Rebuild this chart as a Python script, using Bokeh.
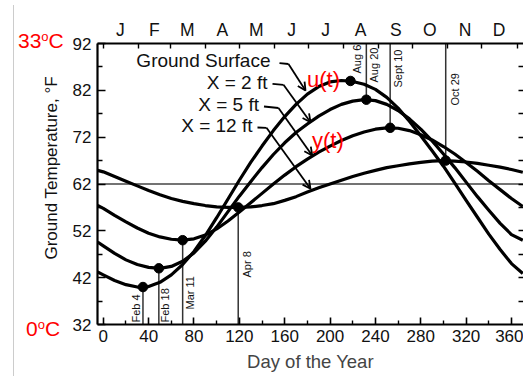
import math

from bokeh.plotting import figure
from bokeh.layouts import row
from bokeh.models import (Range1d, LinearAxis, FixedTicker, Label, Arrow, OpenHead,
                          ColumnDataSource, Div)
from bokeh.embed import file_html
from bokeh.resources import INLINE
from bokeh.core.properties import value

FONT = "Liberation Sans"

# Day of year sampled every ten days (plus the left edge of the axis)
days = [-5, 0, 10, 20, 30, 40, 50, 60, 70, 80, 90, 100, 110, 120, 130, 140, 150, 160,
        170, 180, 190, 200, 210, 220, 230, 240, 250, 260, 270, 280, 290, 300, 310, 320,
        330, 340, 350, 360, 370]

# Ground temperature, deg F
surface = [43.2, 42.6, 41.4, 40.5, 40.0, 40.1, 41.0, 42.6, 44.8, 47.6, 51.0, 54.8, 58.8,
           62.8, 66.6, 70.1, 73.4, 76.4, 79.0, 81.2, 82.8, 83.8, 84.1, 83.9, 83.3, 82.2,
           80.5, 78.2, 75.4, 72.3, 69.1, 65.8, 62.2, 58.5, 54.9, 51.3, 48.0, 45.0, 42.9]
depth_2ft = [49.6, 48.8, 47.2, 45.8, 44.8, 44.2, 44.0, 44.4, 45.5, 47.3, 49.8, 52.8, 56.1,
             59.4, 62.5, 65.5, 68.3, 70.8, 73.0, 74.8, 76.5, 77.9, 79.0, 79.7, 80.0, 79.8,
             79.0, 77.7, 75.9, 73.7, 71.2, 68.4, 65.5, 62.4, 59.3, 56.4, 53.6, 51.2, 50.0]
depth_5ft = [57.4, 56.8, 55.3, 53.9, 52.6, 51.5, 50.7, 50.2, 50.0, 50.3, 51.1, 52.4, 54.1,
             56.0, 58.0, 60.0, 62.0, 63.9, 65.7, 67.3, 68.8, 70.1, 71.3, 72.3, 73.1, 73.7,
             74.0, 73.9, 73.4, 72.5, 71.4, 70.0, 68.4, 66.6, 64.7, 62.7, 60.8, 58.9, 57.2]
depth_12ft = [64.9, 64.6, 63.6, 62.6, 61.6, 60.6, 59.7, 58.9, 58.3, 57.8, 57.4, 57.1, 57.0,
              57.0, 57.1, 57.4, 57.8, 58.5, 59.3, 60.3, 61.2, 62.0, 62.8, 63.6, 64.3, 64.9,
              65.5, 65.9, 66.3, 66.6, 66.9, 67.0, 66.9, 66.7, 66.4, 66.0, 65.6, 65.1, 64.5]

# Dates of the minima / maxima of each curve
event_labels = ["Feb 4", "Feb 18", "Mar 11", "Apr 8", "Aug 6", "Aug 20", "Sept 10", "Oct 29"]
event_days = [35, 49, 70, 119, 218, 232, 253, 302]
event_temps = [40, 44, 50, 57, 84, 80, 74, 67]

mean_temp = 62

temp_ticks = [32, 42, 52, 62, 72, 82, 92]
day_ticks = [0, 40, 80, 120, 160, 200, 240, 280, 320, 360]
month_letters = ["J", "F", "M", "A", "M", "J", "J", "A", "S", "O", "N", "D"]
month_mid = [15, 45, 74, 105, 135, 166, 196, 227, 258, 288, 319, 349]
month_start = [0, 31, 59, 90, 120, 151, 181, 212, 243, 273, 304, 334, 365]

celsius_marks = ["33", "0"]

# ---------------------------------------------------------------- geometry (page px)
W, H = 523, 376
SIDE_W = 68                      # strip left of the tick labels
FRAME_L, TOP, BOTTOM = 97, 43, 52
X0, X1 = -5.1, 370.6
Y0, Y1 = 32, 92


def sx(px):
    """page x (px) -> day"""
    return X0 + (px - FRAME_L) * (X1 - X0) / (W - FRAME_L)


def sy(py):
    """page y (px from top) -> deg F"""
    return Y0 + (H - BOTTOM - py) * (Y1 - Y0) / (H - BOTTOM - TOP)


# ---------------------------------------------------------------- main chart
p = figure(width=W - SIDE_W, height=H, output_backend="svg", toolbar_location=None,
           x_range=Range1d(X0, X1), y_range=Range1d(Y0, Y1),
           min_border_left=FRAME_L - SIDE_W, min_border_right=0, min_border_top=TOP,
           min_border_bottom=BOTTOM, background_fill_color="white",
           border_fill_color="white", outline_line_color=None)
p.xgrid.visible = False
p.ygrid.visible = False


def style_axis(ax, size="17px"):
    ax.axis_line_width = 2.2
    ax.axis_line_color = "black"
    ax.major_tick_line_width = 1.6
    ax.minor_tick_line_width = 1.4
    ax.major_label_text_font = FONT
    ax.major_label_text_font_size = size
    ax.major_label_text_color = "#111111"


# left axis
yl = p.yaxis[0]
yl.ticker = FixedTicker(ticks=temp_ticks, minor_ticks=[t + 5 for t in temp_ticks[:-1]])
yl.major_tick_in, yl.major_tick_out = 8, 0
yl.minor_tick_in, yl.minor_tick_out = 5, 0
yl.major_label_standoff = 6
style_axis(yl)

# bottom axis
xb = p.xaxis[0]
xb.ticker = FixedTicker(ticks=day_ticks, minor_ticks=[d + 20 for d in day_ticks])
xb.major_tick_in, xb.major_tick_out = 7, 0
xb.minor_tick_in, xb.minor_tick_out = 4, 0
xb.major_label_standoff = 5
xb.axis_label = "Day of the Year"
xb.axis_label_text_font = FONT
xb.axis_label_text_font_size = "18.5px"
xb.axis_label_text_font_style = "normal"
xb.axis_label_standoff = 6
style_axis(xb)

# month axis on top: letters at mid-month, ticks at month boundaries
xt = LinearAxis(ticker=FixedTicker(ticks=month_mid, minor_ticks=month_start),
                major_label_overrides={m: s for m, s in zip(month_mid, month_letters)})
xt.major_tick_in, xt.major_tick_out = 0, 0
xt.minor_tick_in, xt.minor_tick_out = 5, 0
xt.major_label_standoff = 4
style_axis(xt, "17.5px")
p.add_layout(xt, "above")

# right edge: unlabeled ticks every 5 F
right_ticks = list(range(37, 92, 5))
yr = LinearAxis(ticker=FixedTicker(ticks=right_ticks),
                major_label_overrides={t: "" for t in right_ticks})
yr.axis_line_color = None
yr.major_tick_in, yr.major_tick_out = 5, 0
yr.major_tick_line_width = 1.4
yr.major_label_text_font_size = "1px"
yr.major_label_standoff = 0
p.add_layout(yr, "right")

# mean temperature line and date markers
p.line([X0, X1], [mean_temp, mean_temp], line_color="#444444", line_width=1.5)
lower = [i for i, d in enumerate(event_days) if d < 180]
upper = [i for i, lab in enumerate(event_labels) if event_days[i] > 180 and lab != "Aug 6"]
p.segment(x0=[event_days[i] for i in lower], y0=[Y0] * len(lower),
          x1=[event_days[i] for i in lower], y1=[event_temps[i] for i in lower],
          line_color="#333333", line_width=1.5)
p.segment(x0=[event_days[i] for i in upper], y0=[Y1] * len(upper),
          x1=[event_days[i] for i in upper], y1=[event_temps[i] for i in upper],
          line_color="#333333", line_width=1.5)

# temperature curves
for series in (surface, depth_2ft, depth_5ft, depth_12ft):
    p.line(days, series, line_color="black", line_width=3.2, line_join="round")

p.scatter(event_days, event_temps, size=9.5, color="black")

# rotated date captions: (offset from the marker line in px, start height in px)
caption_place = {"Feb 4": (-7, 322), "Feb 18": (6, 322), "Mar 11": (7, 309),
                 "Apr 8": (8.5, 277), "Aug 6": (7, 73), "Aug 20": (8, 82),
                 "Sept 10": (8, 87), "Oct 29": (9, 105)}
px_per_day = (W - FRAME_L) / (X1 - X0)
cap_src = ColumnDataSource(dict(
    x=[d + caption_place[lab][0] / px_per_day for d, lab in zip(event_days, event_labels)],
    y=[sy(caption_place[lab][1]) for lab in event_labels],
    text=event_labels))
p.text(x="x", y="y", text="text", source=cap_src, angle=math.pi / 2,
       text_align="left", text_baseline="middle", text_font=value(FONT),
       text_font_size="11px", text_color="#111111")

# leader captions with arrows
leaders = [("Ground Surface", 270, 60, [(279, 62.7), (288, 63.5)], (305, 90)),
           ("X = 2 ft", 267, 82, [(272, 83.3), (283, 84.3)], (310, 121.7)),
           ("X = 5 ft", 258.5, 103.5, [(263.5, 106), (278, 107.5)], (311.7, 155)),
           ("X = 12 ft", 252, 124.5, [(257, 127), (266, 127.3)], (310, 188.3))]
for text, tx, ty, pts, tip in leaders:
    p.add_layout(Label(x=sx(tx), y=sy(ty), text=text, text_align="right",
                       text_baseline="middle", text_font=FONT,
                       text_font_size="19px", text_color="#111111"))
    p.line([sx(a) for a, _ in pts], [sy(b) for _, b in pts],
           line_color="black", line_width=1.8)
    p.add_layout(Arrow(x_start=sx(pts[-1][0]), y_start=sy(pts[-1][1]),
                       x_end=sx(tip[0]), y_end=sy(tip[1]), line_width=1.8,
                       end=OpenHead(size=8, line_width=1.8)))

# function names in red
for text, tx, ty in [("u(t)", 306.5, 79), ("y(t)", 311.5, 140)]:
    p.add_layout(Label(x=sx(tx), y=sy(ty), text=text, text_align="left",
                       text_baseline="middle", text_font=FONT,
                       text_font_size="22px", text_color="#ff0000"))

# ---------------------------------------------------------------- side strip
# y-axis title and the Celsius equivalents of the scale ends
abs_style = "position:absolute;white-space:nowrap;margin:0;padding:0;"
parts = [
    f'<div style="{abs_style}left:13px;top:5px;width:0;height:{H - 5}px;'
    'border-left:1.5px solid #cccccc;"></div>',
    f'<div style="{abs_style}left:51px;top:168px;font-size:17px;color:#111111;'
    'line-height:17px;transform:translate(-50%,-50%) rotate(-90deg);">'
    'Ground Temperature, \u00b0F</div>',
]
for num, (x_num, top) in zip(celsius_marks, [(18, 30), (26, 318)]):
    parts.append(
        f'<div style="{abs_style}left:{x_num}px;top:{top}px;font-size:21px;'
        'line-height:21px;color:#ff0000;">'
        f'{num}<span style="font-size:13px;vertical-align:7px;line-height:0;">o</span>C</div>')

side = Div(text=f'<div style="position:relative;width:{SIDE_W}px;height:{H}px;'
                f'font-family:\'{FONT}\';overflow:hidden;">' + "".join(parts) + "</div>",
           width=SIDE_W, height=H, margin=0)

layout = row(side, p, spacing=0)
open("out.html", "w").write(file_html(layout, INLINE))
